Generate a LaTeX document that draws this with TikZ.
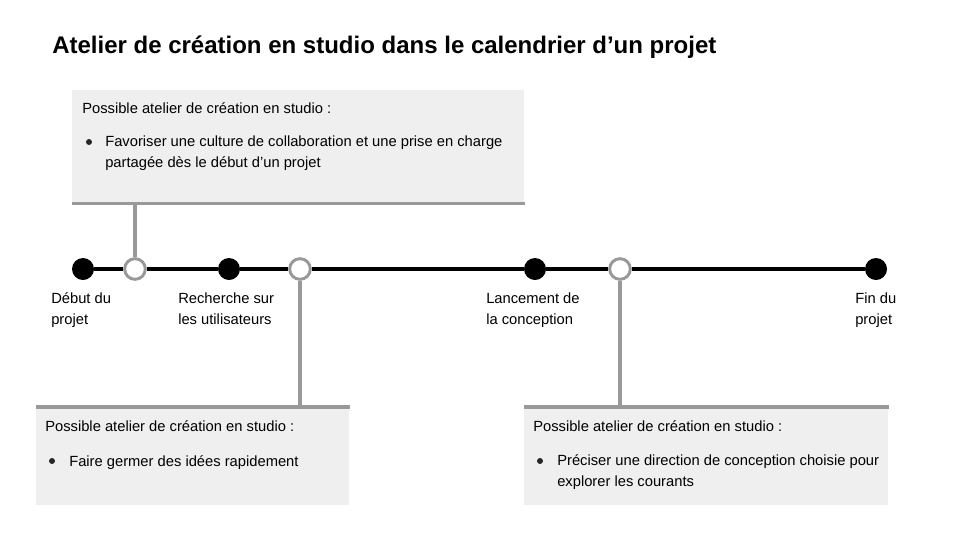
\documentclass[tikz,border=0pt]{standalone}
\usepackage{fontspec}
\setmainfont{Liberation Sans}
\usepackage{xcolor}
\usetikzlibrary{positioning}
\definecolor{panelgray}{HTML}{EFEFEF}
\definecolor{linkgray}{HTML}{999999}

\begin{document}
\begin{tikzpicture}[
    x=0.75pt, y=-0.75pt,
    every node/.style={font=\fontsize{11.05}{15.4}\selectfont, inner sep=0pt},
    milestone/.style={circle, fill=black, minimum size=16.5pt},
    workshop/.style={circle, draw=linkgray, fill=white, line width=2.2pt, minimum size=15.5pt},
    panel/.style={fill=panelgray, anchor=north west},
    phase/.style={align=left, anchor=base west},
    dot/.style={circle, fill=black!85, minimum size=4.5pt},
    link/.style={draw=linkgray, line width=2.4pt}
]
\useasboundingbox (0,0) rectangle (960,540);

% Title
\node[anchor=base west, font=\bfseries\fontsize{18}{21}\selectfont] (title) at (52,53)
    {Atelier de création en studio dans le calendrier d’un projet};

% Milestones on the timeline
\node[milestone] (start) at (83,269) {};
\node[workshop] (w1) at (135,269) {};
\node[milestone] (research) at (229,269) {};
\node[workshop] (w2) at (300,269) {};
\node[milestone] (launch) at (535,269) {};
\node[workshop] (w3) at (620,269) {};
\node[milestone] (finish) at (876,269) {};

% Timeline
\draw[line width=2.4pt] (start) -- (w1) -- (research) -- (w2) -- (launch) -- (w3) -- (finish);

% Milestone labels (anchored at the last line)
\node[phase] (startL) at (51,324) {Début du\\projet};
\node[phase] (researchL) at (178,324) {Recherche sur\\les utilisateurs};
\node[phase] (launchL) at (486,324) {Lancement de\\la conception};
\node[phase] (finishL) at (855,324) {Fin du\\projet};

% Workshop panels
\node[panel, minimum width=339pt, minimum height=84.75pt] (top) at (72,90) {};
\node[panel, minimum width=234.75pt, minimum height=73.5pt] (left) at (36,407) {};
\node[panel, minimum width=273pt, minimum height=73.5pt] (right) at (524,407) {};

\draw[link] (top.south west) -- (top.south east);
\draw[link] (left.north west) -- (left.north east);
\draw[link] (right.north west) -- (right.north east);

% Connectors
\draw[link] (w1) -- (w1 |- top.south);
\draw[link] (w2) -- (w2 |- left.north);
\draw[link] (w3) -- (w3 |- right.north);

% Panel texts
\node[anchor=base west] (topHead) at (82,113) {Possible atelier de création en studio :};
\node[dot] (topDot) at (89,142) {};
\node[phase] (topText) at (105,167.5)
    {Favoriser une culture de collaboration et une prise en charge\\partagée dès le début d’un projet};

\node[anchor=base west] (leftHead) at (45,431) {Possible atelier de création en studio :};
\node[dot] (leftDot) at (52,461) {};
\node[phase] (leftText) at (69,466) {Faire germer des idées rapidement};

\node[anchor=base west] (rightHead) at (533,431) {Possible atelier de création en studio :};
\node[dot] (rightDot) at (540,461) {};
\node[phase] (rightText) at (557,486.5)
    {Préciser une direction de conception choisie pour\\explorer les courants};
\end{tikzpicture}
\end{document}
